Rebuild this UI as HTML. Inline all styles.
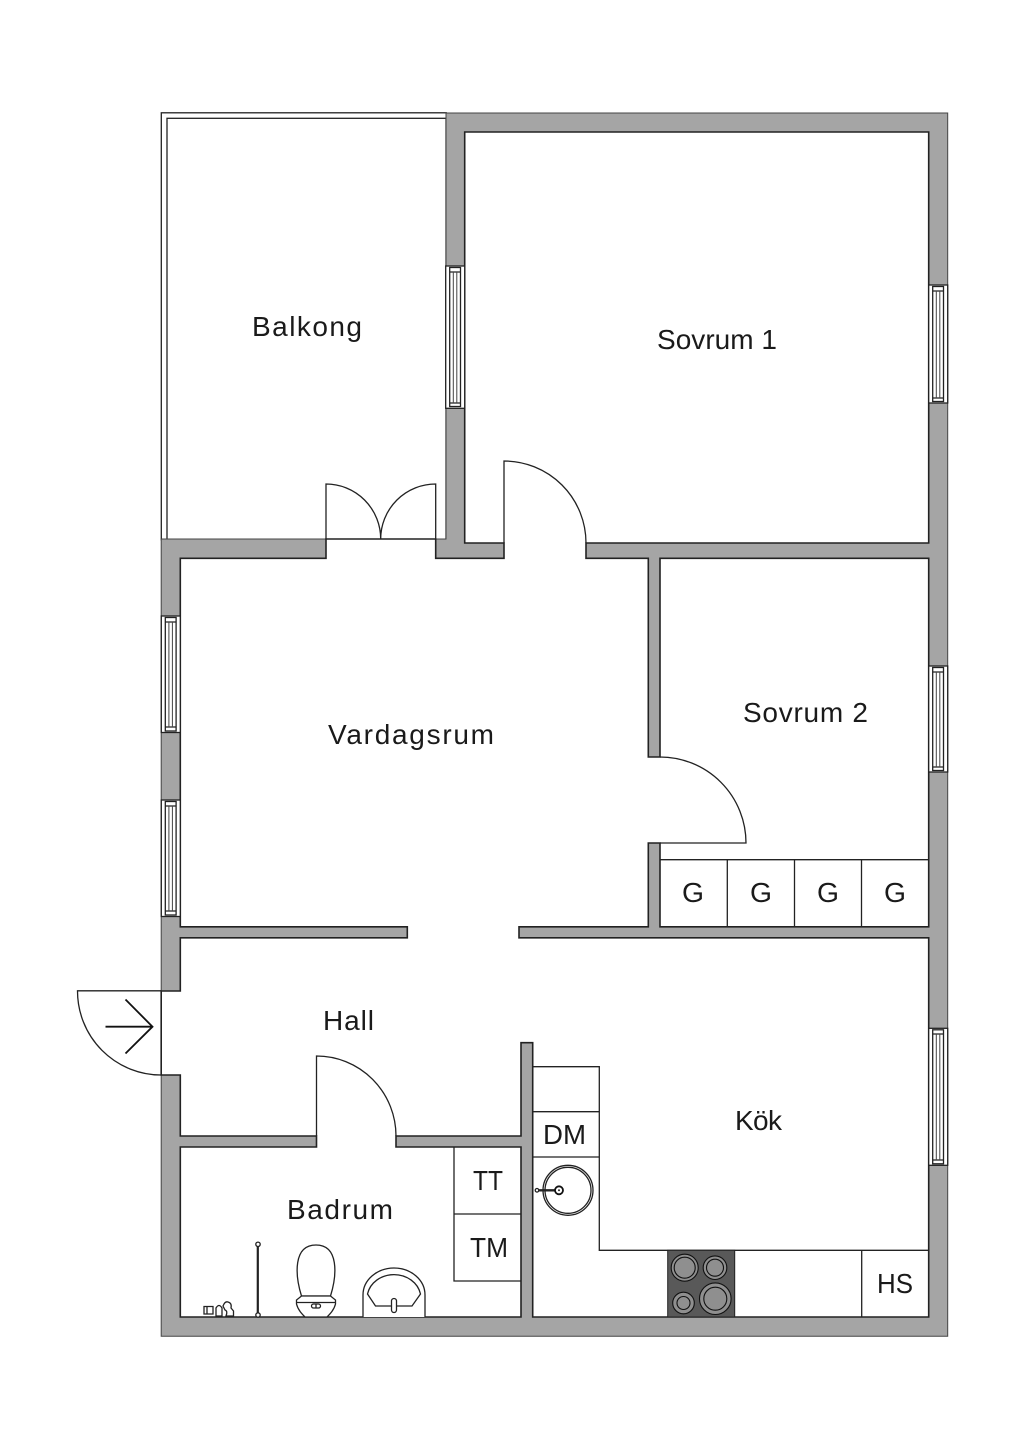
<!DOCTYPE html>
<html><head><meta charset="utf-8"><style>
html,body{margin:0;padding:0;background:#fff}
svg{display:block}
text{font-family:"Liberation Sans",sans-serif;font-size:28px;fill:#1a1a1a}
.l{fill:none;stroke:#222;stroke-width:1.3}
.w{fill:#fff;stroke:#222;stroke-width:1.3}
.g{fill:none;stroke:#444;stroke-width:1}
</style></head><body>
<svg width="1024" height="1448" viewBox="0 0 1024 1448" xmlns="http://www.w3.org/2000/svg">
<rect width="1024" height="1448" fill="#fff"/>
<!-- balcony -->
<rect x="161.3" y="112.8" width="285" height="427" class="w"/>
<rect x="167" y="118.3" width="279" height="421" class="w"/>
<!-- wall mass -->
<path d="M446 113H947.7V1336.3H161.2V539H446Z" fill="#a5a5a5" stroke="#444" stroke-width="1"/>
<!-- interior -->
<path d="M180.3 558.3H326V539H435.7V558.3H504V543H464.7V132H928.7V543H586V558.3H648.3V757H660V558.3H928.7V926.8H660V843H648.3V926.8H519V937.8H928.7V1317H532.7V1042.7H521V1136H396V1147H521V1317H180.3V1147H316.5V1136H180.3V1075H161.2V991H180.3V937.8H407.3V926.8H180.3Z" fill="#fff" stroke="#222" stroke-width="1.6"/>
<!-- windows -->
<g>
<rect x="445.7" y="266" width="19" height="142.3" class="w"/><rect x="449.7" y="267.5" width="10.8" height="139" class="l"/><path d="M449.7 272H460.5M449.7 403H460.5" class="l"/><path d="M453.3 272V403M456.8 272V403" class="g"/>
<rect x="928.7" y="285" width="19" height="118" class="w"/><rect x="932.7" y="286.5" width="10.8" height="115" class="l"/><path d="M932.7 291H943.5M932.7 398H943.5" class="l"/><path d="M936.3 291V398M939.8 291V398" class="g"/>
<rect x="928.7" y="666" width="19" height="106" class="w"/><rect x="932.7" y="667.5" width="10.8" height="103" class="l"/><path d="M932.7 672H943.5M932.7 767H943.5" class="l"/><path d="M936.3 672V767M939.8 672V767" class="g"/>
<rect x="928.7" y="1028.3" width="19" height="137" class="w"/><rect x="932.7" y="1029.8" width="10.8" height="134" class="l"/><path d="M932.7 1034H943.5M932.7 1160H943.5" class="l"/><path d="M936.3 1034V1160M939.8 1034V1160" class="g"/>
<rect x="161.3" y="616" width="19" height="116.5" class="w"/><rect x="165.3" y="617.5" width="10.8" height="113.5" class="l"/><path d="M165.3 622H176.1M165.3 727H176.1" class="l"/><path d="M168.9 622V727M172.4 622V727" class="g"/>
<rect x="161.3" y="800" width="19" height="116.5" class="w"/><rect x="165.3" y="801.5" width="10.8" height="113.5" class="l"/><path d="M165.3 806H176.1M165.3 911H176.1" class="l"/><path d="M168.9 806V911M172.4 806V911" class="g"/>
</g>
<!-- doors -->
<path d="M326 539V484A54.7 55 0 0 1 380.7 539M435.7 539V484A55 55 0 0 0 380.7 539" class="l"/>
<path d="M504 543V461A82 82 0 0 1 586 543" class="l"/>
<path d="M660 757A86 86 0 0 1 746 843H660" class="l"/>
<path d="M316.5 1136V1056A79.5 80 0 0 1 396 1136" class="l"/>
<path d="M161.2 990.8H77.5A83.7 84 0 0 0 161.2 1075" class="l"/>
<path d="M105.5 1026.7H152.5M125.5 999.5L152.5 1026.7L125.5 1053.5" fill="none" stroke="#111" stroke-width="1.8"/>
<!-- cabinets -->
<path d="M660 859.7H928.7M727.3 859.7V926.8M794.5 859.7V926.8M861.5 859.7V926.8" class="l"/>
<path d="M532.7 1066.7H599.3V1250.3H928.7M532.7 1111.7H599.3M532.7 1157H599.3M861.7 1250.3V1317" class="l"/>
<path d="M454 1147V1281H521M454 1214H521" class="l"/>
<!-- hob -->
<rect x="667.7" y="1250.3" width="67" height="66.7" fill="#595959" stroke="#222"/>
<g fill="#8f8f8f" stroke="#111" stroke-width="1.1">
<circle cx="684.7" cy="1267.7" r="13.5"/><circle cx="684.7" cy="1267.7" r="10.5"/>
<circle cx="715" cy="1267.7" r="11.8"/><circle cx="715" cy="1267.7" r="8.5"/>
<circle cx="683.5" cy="1303" r="10.8"/><circle cx="683.5" cy="1303" r="6.5"/>
<circle cx="715.3" cy="1298.7" r="15.8"/><circle cx="715.3" cy="1298.7" r="11.5"/>
</g>
<!-- sink -->
<circle cx="568" cy="1190.3" r="25" class="l"/><circle cx="568" cy="1190.3" r="23" class="l"/>
<path d="M538 1190.3H556" fill="none" stroke="#222" stroke-width="2.4"/>
<circle cx="537" cy="1190.3" r="1.8" class="w"/>
<circle cx="559" cy="1190.3" r="4" fill="#fff" stroke="#111" stroke-width="1.8"/><circle cx="559" cy="1190.3" r="1" fill="#222"/>
<!-- bath fixtures -->
<path d="M257.8 1245V1315" fill="none" stroke="#222" stroke-width="2.2"/>
<circle cx="258" cy="1244.3" r="2.2" class="w"/><circle cx="258" cy="1315" r="2.2" class="w"/>
<path d="M301.5 1296C295 1275 293 1245 316 1245C339 1245 337 1275 330.5 1296Z" class="w"/>
<path d="M301.5 1296H330.5L335.5 1300V1304C334 1310 330 1314 327 1317H305C302 1314 298 1310 296.5 1304V1300Z" class="w"/>
<path d="M297 1302.5H335" class="l"/>
<rect x="311.5" y="1304" width="9" height="4" rx="2" class="l"/><path d="M316 1304V1308" class="l"/>
<path d="M363 1317V1295A31 27 0 0 1 425 1295V1317" class="w"/>
<path d="M367.5 1294L375.5 1306H412L420.5 1294A27 24 0 0 0 367.5 1294Z" class="l"/>
<rect x="391.5" y="1298.5" width="5" height="14" rx="2.5" class="w"/>
<path d="M204 1306.5H213V1314H204ZM207 1306.5V1314" class="w" stroke-width="1.6"/>
<path d="M216 1316V1308Q219 1303 222 1308V1316ZM223 1306Q225 1301 228 1302Q232 1303 231 1308L233.5 1311V1316H226Q228 1311 225 1310Z" class="w"/>
<!-- labels -->
<text x="252" y="336" textLength="110" lengthAdjust="spacing">Balkong</text>
<text x="657" y="349" textLength="120" lengthAdjust="spacing">Sovrum 1</text>
<text x="743" y="722" textLength="125" lengthAdjust="spacing">Sovrum 2</text>
<text x="328" y="744" textLength="166" lengthAdjust="spacing">Vardagsrum</text>
<text x="323" y="1030" textLength="51" lengthAdjust="spacing">Hall</text>
<text x="735" y="1130" textLength="47" lengthAdjust="spacing">Kök</text>
<text x="287" y="1219" textLength="106" lengthAdjust="spacing">Badrum</text>
<text x="682" y="902" textLength="22" lengthAdjust="spacingAndGlyphs">G</text>
<text x="750" y="902" textLength="22" lengthAdjust="spacingAndGlyphs">G</text>
<text x="817" y="902" textLength="22" lengthAdjust="spacingAndGlyphs">G</text>
<text x="884" y="902" textLength="22" lengthAdjust="spacingAndGlyphs">G</text>
<text x="543" y="1144" textLength="43" lengthAdjust="spacingAndGlyphs">DM</text>
<text x="473" y="1190" textLength="30" lengthAdjust="spacingAndGlyphs">TT</text>
<text x="470" y="1257" textLength="38" lengthAdjust="spacingAndGlyphs">TM</text>
<text x="877" y="1293" textLength="36" lengthAdjust="spacingAndGlyphs">HS</text>
</svg>
</body></html>
